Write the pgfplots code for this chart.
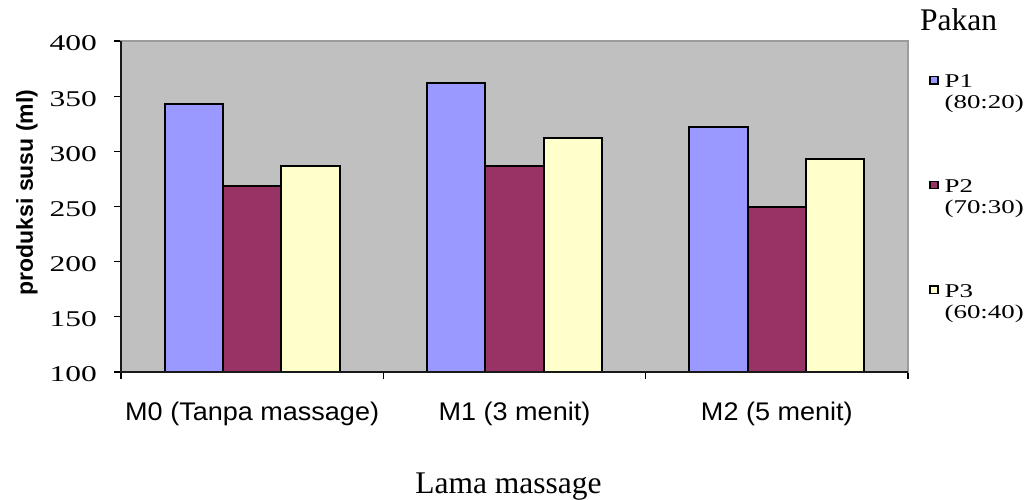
\documentclass[border=0pt]{standalone}
\usepackage{pgfplots}
\pgfplotsset{compat=1.18}
\usepackage{pgfplotstable}
\usepackage{fontspec}
\setmainfont{Liberation Serif}
\newfontfamily\sansf{Liberation Sans}
\newfontfamily\ytickf[FakeStretch=1.4]{Liberation Serif}
\newfontfamily\legf[FakeStretch=1.38]{Liberation Serif}
\newfontfamily\xtickf[FakeStretch=1.06]{Liberation Sans}
\definecolor{bg}{HTML}{C0C0C0}
\definecolor{cA}{HTML}{9999FF}
\definecolor{cB}{HTML}{993366}
\definecolor{cC}{HTML}{FFFFCC}
\definecolor{frame}{HTML}{9C9C9C}

\pgfplotstableread{
x P1 P2 P3
0 343 269 287
1 362 287 312
2 322 250 293
}\datatable

\pgfplotsset{sqlegend/.style={legend image code/.code={\draw[##1,draw=black,line width=1.4pt] (0pt,4pt) rectangle (8pt,11.5pt);}}}

\begin{document}
\begin{tikzpicture}
\path[use as bounding box] (0,0) rectangle (1025pt,499pt);
\begin{axis}[
  name=ax,
  at={(121pt,127pt)}, anchor=south west,
  scale only axis, width=787pt, height=331pt,
  xmin=-0.5, xmax=2.5, ymin=100, ymax=400,
  axis background/.style={fill=bg},
  axis line style={draw=frame, line width=1.8pt},
  tick pos=left,
  tick align=outside,
  major tick length=7pt,
  tick style={black, line width=1.3pt},
  ytick={100,150,...,400},
  xtick={-0.5,0.5,1.5,2.5},
  xticklabels={,,,},
  extra x ticks={0,1,2},
  extra x tick labels={M0 (Tanpa massage),M1 (3 menit),M2 (5 menit)},
  extra x tick style={major tick length=0pt},
  /pgf/number format/assume math mode=true,
  yticklabel style={font=\ytickf\fontsize{22.5}{26}\selectfont, anchor=east, inner sep=0pt, xshift=-17pt, yshift=-2.5pt},
  xticklabel style={font=\xtickf\fontsize{25.5}{28}\selectfont, anchor=north, inner sep=0pt, yshift=-29.5pt},
  xlabel={Lama massage},
  every axis x label/.style={at={(axis description cs:0.5,0)}, anchor=base, yshift=-121pt, xshift=-6pt, font=\fontsize{31.5}{34}\selectfont, inner sep=0pt},
  ylabel={produksi susu (ml)},
  every axis y label/.style={at={(axis description cs:-0.1195,0.5423)}, rotate=90, anchor=center, font=\sansf\bfseries\fontsize{23}{26}\selectfont, inner sep=0pt},
  extra description/.code={\draw[black!90, line width=1.8pt] (0,1) -- (0,0) -- (1,0);},
  legend style={at={(1,1)}, anchor=north west, xshift=21pt, yshift=-32.3pt, draw=none, fill=none, inner sep=0pt, row sep=89pt, column sep=6pt, nodes={inner sep=0pt, anchor=base west}, font=\legf\fontsize{19.5}{20.5}\selectfont},
  legend cell align=left,
]
\addplot[ybar, sqlegend, fill=cA, draw=black, line width=2pt, bar width=0.222, bar shift=-0.222] table[x=x,y=P1]{\datatable};
\addlegendentry{\begin{tabular}[t]{@{}l@{}}P1\\(80:20)\end{tabular}}
\addplot[ybar, sqlegend, fill=cB, draw=black, line width=2pt, bar width=0.222, bar shift=0] table[x=x,y=P2]{\datatable};
\addlegendentry{\begin{tabular}[t]{@{}l@{}}P2\\(70:30)\end{tabular}}
\addplot[ybar, sqlegend, fill=cC, draw=black, line width=2pt, bar width=0.222, bar shift=0.222] table[x=x,y=P3]{\datatable};
\addlegendentry{\begin{tabular}[t]{@{}l@{}}P3\\(60:40)\end{tabular}}
\end{axis}
\node[anchor=base west, inner sep=0pt, font=\fontsize{31.5}{34}\selectfont] at ([xshift=12pt,yshift=10pt]ax.north east) {Pakan};
\end{tikzpicture}
\end{document}
